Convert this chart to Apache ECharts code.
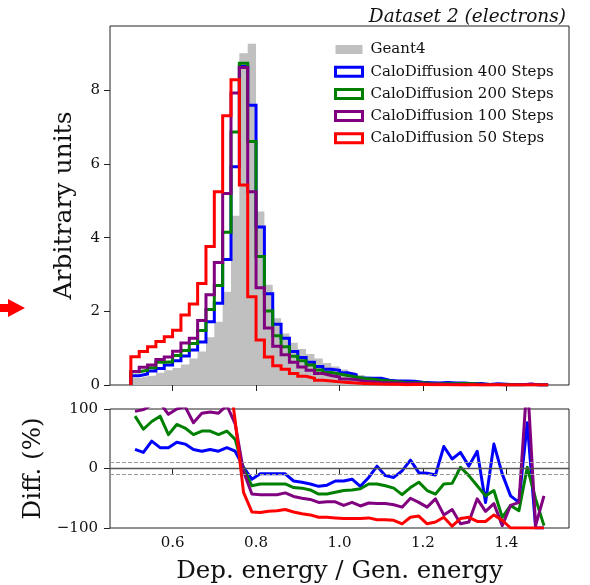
<!DOCTYPE html>
<html>
<head>
<meta charset="utf-8">
<script src="https://cdn.jsdelivr.net/npm/echarts@6/dist/echarts.min.js"></script>
<style>
  html, body { margin: 0; padding: 0; background: #ffffff; }
  #chart { width: 590px; height: 585px; }
</style>
</head>
<body>
<div id="chart"></div>
<script>
// Histogram binning: 50 bins of width 0.02 from 0.5 to 1.5
const binLow = 0.5;
const binStep = 0.02;

// Normalised counts per bin (arbitrary units)
const geant4 = [0.19,0.24,0.26,0.33,0.40,0.46,0.56,0.72,0.91,1.30,1.72,2.53,4.60,9.01,9.27,4.71,2.72,1.81,1.40,1.15,
  0.98,0.84,0.72,0.60,0.50,0.42,0.34,0.27,0.21,0.17,0.15,0.13,0.11,0.09,0.08,0.07,0.06,0.05,0.045,0.04,
  0.035,0.03,0.026,0.022,0.02,0.017,0.015,0.012,0.010,0.009];
const steps400 = [0.25,0.30,0.38,0.45,0.54,0.66,0.79,0.95,1.17,1.72,2.22,3.41,5.93,8.65,7.60,4.29,2.48,1.65,1.27,0.91,
  0.75,0.62,0.50,0.43,0.40,0.33,0.28,0.19,0.18,0.18,0.13,0.11,0.106,0.10,0.074,0.064,0.053,0.069,0.052,0.051,
  0.036,0.039,0.011,0.031,0.018,0.009,0.006,0.021,0,0];
const steps200 = [0.36,0.40,0.47,0.62,0.63,0.80,0.94,1.13,1.48,2.05,2.70,4.15,6.87,8.74,6.61,3.49,2.01,1.34,1.04,0.78,
  0.66,0.54,0.41,0.34,0.30,0.26,0.22,0.18,0.155,0.126,0.107,0.087,0.062,0.061,0.062,0.044,0.034,0.037,0.034,0.041,
  0.031,0.021,0.014,0.014,0.004,0.006,0.004,0.012,0.005,0.0004];
const steps100 = [0.37,0.48,0.54,0.69,0.76,0.92,1.14,1.27,1.75,2.45,3.33,5.20,7.93,8.62,5.25,2.64,1.55,1.05,0.82,0.62,
  0.49,0.40,0.31,0.26,0.22,0.16,0.146,0.10,0.088,0.07,0.062,0.051,0.039,0.045,0.034,0.025,0.029,0.011,0.014,0.003,
  0.0035,0.015,0.007,0.009,0.001,0.0065,0.0065,0.030,0.0004,0.005];
const steps50 = [0.77,0.91,1.04,1.18,1.31,1.49,1.90,2.20,2.76,3.76,5.25,7.31,8.29,5.43,2.40,1.22,0.76,0.52,0.43,0.31,
  0.235,0.185,0.13,0.108,0.085,0.067,0.054,0.043,0.036,0.024,0.021,0.017,0.008,0.016,0.016,0.005,0.006,0.009,0.0014,0.0064,
  0.0063,0.0033,0.0029,0.0048,0.0026,0,0,0,0,0];

// Relative difference to Geant4 per bin, in percent
const diff400 = [32,27,46,35,35,44,41,32,29,32,29,35,29,2,-18,-9,-9,-9,-9,-21,-23,-26,-30,-28,-21,-21,-18,-30,-15,4,
  -12,-15,-4,14,-7,-8,-11,37,16,27,4,29,-57,41,-9,-46,-57,77,-100,-100];
const diff200 = [88,66,79,88,57,74,68,57,63,63,57,63,49,-1,-29,-26,-26,-26,-26,-32,-33,-36,-43,-43,-40,-37,-36,-34,-26,-26,
  -29,-33,-44,-32,-23,-37,-43,-26,-25,2,-12,-29,-46,-37,-82,-62,-71,2,-51,-96];
const diff100 = [96,99,107,110,91,100,104,77,93,95,93,106,75,-5,-43,-44,-44,-44,-41,-47,-50,-52,-57,-56,-56,-62,-57,-63,-58,-59,
  -59,-61,-65,-50,-57,-65,-51,-78,-69,-93,-90,-51,-72,-59,-96,-62,-57,150,-96,-46];
const diff50 = [305,279,300,258,228,224,239,206,203,189,205,189,80,-40,-73,-74,-72,-71,-69,-73,-76,-78,-82,-82,-83,-84,-84,-84,-83,-86,
  -86,-87,-93,-82,-80,-93,-90,-82,-97,-84,-82,-89,-89,-78,-87,-100,-100,-100,-100,-100];

const xTicks = [0.6, 0.8, 1.0, 1.2, 1.4];
const yTicksTop = [0, 2, 4, 6, 8];

const seriesNames = ['Geant4', 'CaloDiffusion 400 Steps', 'CaloDiffusion 200 Steps',
  'CaloDiffusion 100 Steps', 'CaloDiffusion 50 Steps'];
const colors = ['#c0c0c0', '#0000ff', '#008000', '#800080', '#ff0000'];

const nBins = geant4.length;
const edges = [];
for (let i = 0; i <= nBins; i++) edges.push(+(binLow + i * binStep).toFixed(4));
const centers = [];
for (let i = 0; i < nBins; i++) centers.push(+(binLow + (i + 0.5) * binStep).toFixed(4));

// Step outline of a histogram: up at the first edge, across each bin, down at the last edge
function stepPoints(vals) {
  const pts = [[edges[0], 0]];
  vals.forEach((v, i) => pts.push([edges[i], v]));
  pts.push([edges[nBins], vals[nBins - 1]]);
  pts.push([edges[nBins], 0]);
  return pts;
}
function linePoints(vals) {
  return vals.map((v, i) => [centers[i], v]);
}

const FONT = 'DejaVu Serif';
const frame = '#222222';

const chart = echarts.init(document.getElementById('chart'), null, { renderer: 'canvas' });

const hists = [steps400, steps200, steps100, steps50];
const diffs = [diff400, diff200, diff100, diff50];

const series = [];
series.push({
  name: seriesNames[0], type: 'line', xAxisIndex: 0, yAxisIndex: 0,
  data: stepPoints(geant4), step: 'end', symbol: 'none',
  lineStyle: { width: 0 }, itemStyle: { color: colors[0] },
  areaStyle: { color: colors[0], opacity: 1 }, z: 1
});
hists.forEach((h, k) => {
  series.push({
    name: seriesNames[k + 1], type: 'line', xAxisIndex: 0, yAxisIndex: 0,
    data: stepPoints(h), step: 'end', symbol: 'none',
    lineStyle: { width: 3, color: colors[k + 1], join: 'miter', cap: 'butt' },
    itemStyle: { color: colors[k + 1] }, z: 2 + k
  });
});
// Reference lines of the difference panel
series.push({
  type: 'line', xAxisIndex: 1, yAxisIndex: 1, data: [], silent: true, z: 1,
  markLine: {
    silent: true, symbol: 'none', label: { show: false }, animation: false,
    data: [
      { yAxis: 0, lineStyle: { color: '#555555', width: 1.3, type: 'solid' } },
      { yAxis: 10, lineStyle: { color: '#999999', width: 1.2, type: [4, 2] } },
      { yAxis: -10, lineStyle: { color: '#999999', width: 1.2, type: [4, 2] } }
    ]
  }
});
diffs.forEach((d, k) => {
  series.push({
    name: seriesNames[k + 1], type: 'line', xAxisIndex: 1, yAxisIndex: 1,
    data: linePoints(d), symbol: 'none', clip: true,
    lineStyle: { width: 3, color: colors[k + 1], join: 'round' },
    itemStyle: { color: colors[k + 1] }, z: 2 + k
  });
});

const legendData = seriesNames.map((n, i) => (i === 0
  ? { name: n, icon: 'rect', itemStyle: { color: colors[0], borderWidth: 0 } }
  : { name: n, icon: 'rect', itemStyle: { color: '#ffffff', borderColor: colors[i], borderWidth: 3 } }));

const option = {
  animation: false,
  backgroundColor: '#ffffff',
  textStyle: { fontFamily: FONT },
  grid: [
    { left: 110, right: 21, top: 26, height: 359, show: true, borderColor: frame, borderWidth: 1, backgroundColor: 'transparent' },
    { left: 110, right: 21, top: 409, height: 120, show: true, borderColor: frame, borderWidth: 1, backgroundColor: 'transparent' }
  ],
  title: {
    text: 'Dataset 2 (electrons)', right: 19, top: 3,
    textStyle: { fontFamily: FONT, fontStyle: 'italic', fontWeight: 'normal', fontSize: 18.5, color: '#111' }
  },
  legend: {
    orient: 'vertical', left: 329, top: 37, itemWidth: 27, itemHeight: 9, itemGap: 7.2,
    data: legendData, selectedMode: false,
    textStyle: { fontFamily: FONT, fontSize: 15, lineHeight: 15, color: '#111', padding: [0, 0, 0, 3] }
  },
  xAxis: [
    {
      type: 'value', gridIndex: 0, min: 0.45, max: 1.55,
      axisLine: { show: false }, splitLine: { show: false },
      axisTick: { show: true, inside: false, length: 6, lineStyle: { color: frame, width: 1 }, customValues: xTicks },
      axisLabel: { show: false }
    },
    {
      type: 'value', gridIndex: 1, min: 0.45, max: 1.55,
      axisLine: { show: false }, splitLine: { show: false },
      axisTick: { show: true, inside: false, length: 6, lineStyle: { color: frame, width: 1 }, customValues: xTicks },
      axisLabel: {
        show: true, customValues: xTicks, fontFamily: FONT, fontSize: 15, color: '#111', margin: 8,
        formatter: v => v.toFixed(1)
      },
      name: 'Dep. energy / Gen. energy', nameLocation: 'middle', nameGap: 31,
      nameTextStyle: { fontFamily: FONT, fontSize: 24.5, color: '#111' }
    }
  ],
  yAxis: [
    {
      type: 'value', gridIndex: 0, min: 0, max: 9.75,
      axisLine: { show: false }, splitLine: { show: false },
      axisTick: { show: true, inside: false, length: 6, lineStyle: { color: frame, width: 1 }, customValues: yTicksTop },
      axisLabel: { show: true, customValues: yTicksTop, fontFamily: FONT, fontSize: 15, color: '#111', margin: 10 },
      name: 'Arbitrary units', nameLocation: 'middle', nameGap: 33,
      nameTextStyle: { fontFamily: FONT, fontSize: 25, color: '#111' }
    },
    {
      type: 'value', gridIndex: 1, min: -100, max: 100, interval: 100,
      axisLine: { show: false }, splitLine: { show: false },
      axisTick: { show: true, inside: false, length: 6, lineStyle: { color: frame, width: 1 } },
      axisLabel: {
        show: true, fontFamily: FONT, fontSize: 15, color: '#111', margin: 12,
        formatter: v => (v < 0 ? '\u2212' + Math.abs(v) : String(v))
      },
      name: 'Diff. (%)', nameLocation: 'middle', nameGap: 46,
      nameTextStyle: { fontFamily: FONT, fontSize: 24.5, color: '#111' }
    }
  ],
  graphic: [
    {
      type: 'polygon', left: 0, top: 299, silent: true,
      shape: { points: [[0, 5], [8, 5], [8, 0], [25, 9], [8, 18], [8, 13], [0, 13]] },
      style: { fill: '#ff0000' }
    }
  ],
  series: series
};

chart.setOption(option);
</script>
</body>
</html>
